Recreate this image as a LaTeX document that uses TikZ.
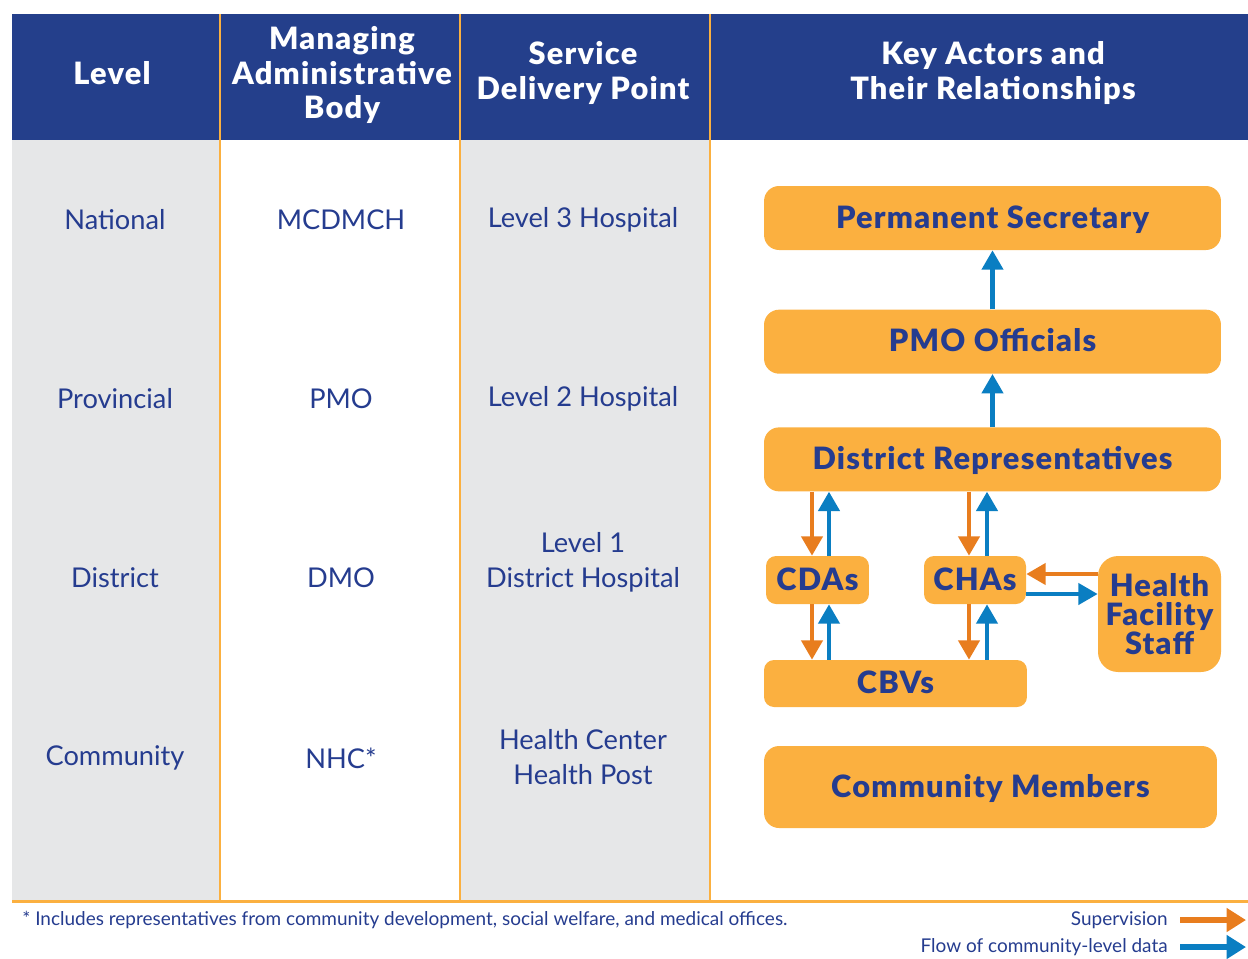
\documentclass[tikz,border=0pt]{standalone}
\usepackage{fontspec}
\setmainfont{Lato}
\newfontfamily\heavyfont{Lato Black}[LetterSpace=4]
\usepackage{tikz}
\usetikzlibrary{arrows.meta, positioning}

\definecolor{headblue}{HTML}{243F8B}
\definecolor{textblue}{HTML}{253C8F}
\definecolor{boxorange}{HTML}{FBB040}
\definecolor{supcolor}{HTML}{E87D1E}
\definecolor{datacolor}{HTML}{0A7EC2}
\definecolor{colgray}{HTML}{E6E7E8}

\tikzstyle{heading} = [text=white, font=\heavyfont\fontsize{17.5}{19.5}\selectfont, align=center]
\tikzstyle{cell} = [text=textblue, font=\fontsize{15.5}{20}\selectfont, align=center]
\tikzstyle{actor} = [rectangle, rounded corners=0.3cm, fill=boxorange, text=textblue, font=\heavyfont\fontsize{17.5}{16.5}\selectfont, align=center, inner sep=0pt]
\tikzstyle{oneline} = [text height=11.5pt, text depth=0pt]
\tikzstyle{supervarrow} = [draw=supcolor, line width=2.3pt, -{Triangle[width=12pt,length=11pt]}]
\tikzstyle{dataarrow} = [draw=datacolor, line width=2.3pt, -{Triangle[width=12pt,length=11pt]}]
\tikzstyle{legendarrow} = [line width=3.4pt, -{Triangle[width=13pt,length=11pt]}]
\tikzstyle{small} = [text=textblue, font=\fontsize{10.8}{12}\selectfont, inner sep=0pt]

\begin{document}
\begin{tikzpicture}[x=0.02cm, y=-0.02cm]
        \useasboundingbox (0,0) rectangle (1248,958);

        % Table background
        \fill [headblue] (12,14) rectangle (1248,140);
        \fill [colgray] (12,140) rectangle (220,900);
        \fill [colgray] (460,140) rectangle (710,900);
        \foreach \x in {220,460,710}
            \draw [boxorange, line width=1.1pt] (\x,14) -- (\x,900);
        \draw [boxorange, line width=1.7pt] (12,901) -- (1248,901);

        % Column headings
        \node (hlevel) [heading] at (112,73) {Level};
        \node (hbody) [heading] at (342,75) {Managing\\Administrative\\Body};
        \node (hpoint) [heading] at (583,73) {Service\\Delivery Point};
        \node (hactors) [heading] at (993,73) {Key Actors and\\Their Relationships};

        % Table rows
        \node (national) [cell] at (115,220) {National};
        \node (mcdmch) [cell] at (341,220) {MCDMCH};
        \node (lvlthree) [cell] at (583,220) {Level 3 Hospital};
        \node (provincial) [cell] at (115,399) {Provincial};
        \node (pmobody) [cell] at (341,399) {PMO};
        \node (lvltwo) [cell] at (583,399) {Level 2 Hospital};
        \node (district) [cell] at (115,578) {District};
        \node (dmo) [cell] at (341,578) {DMO};
        \node (lvlone) [cell] at (583,562) {Level 1\\District Hospital};
        \node (community) [cell] at (115,758) {Community};
        \node (nhc) [cell] at (341,758) {NHC*};
        \node (center) [cell] at (583,757) {Health Center\\Health Post};

        % Key actors
        \node (ps) [actor, oneline, minimum width=9.14cm, minimum height=1.28cm] at (992.5,218) {Permanent Secretary};
        \node (pmo) [actor, oneline, minimum width=9.14cm, minimum height=1.28cm, below=1.18cm of ps] {PMO Officials};
        \node (dr) [actor, oneline, minimum width=9.14cm, minimum height=1.28cm, below=1.06cm of pmo] {District Representatives};
        \node (cdas) [actor, oneline, rounded corners=0.2cm, minimum width=2.06cm, minimum height=0.96cm] at (817.5,580) {CDAs};
        \node (chas) [actor, oneline, rounded corners=0.2cm, minimum width=2.04cm, minimum height=0.96cm] at (975,580) {CHAs};
        \node (hfs) [actor, rounded corners=0.4cm, minimum width=2.46cm, minimum height=2.32cm] at (1159.5,614) {Health\\Facility\\Staff};
        \node (cbvs) [actor, oneline, rounded corners=0.2cm, minimum width=5.26cm, minimum height=0.94cm] at (895.5,683.5) {CBVs};
        \node (members) [actor, oneline, minimum width=9.06cm, minimum height=1.64cm] at (990.5,787) {Community Members};

        % Data flowing up
        \draw [dataarrow] (pmo) -- (ps);
        \draw [dataarrow] (dr) -- (pmo);

        % District representatives <-> CDAs / CHAs
        \draw [supervarrow] ([xshift=-0.11cm]cdas.north |- dr.south) -- ([xshift=-0.11cm]cdas.north);
        \draw [dataarrow] ([xshift=0.23cm]cdas.north) -- ([xshift=0.23cm]cdas.north |- dr.south);
        \draw [supervarrow] ([xshift=-0.12cm]chas.north |- dr.south) -- ([xshift=-0.12cm]chas.north);
        \draw [dataarrow] ([xshift=0.24cm]chas.north) -- ([xshift=0.24cm]chas.north |- dr.south);

        % CDAs / CHAs <-> CBVs
        \draw [supervarrow] ([xshift=-0.11cm]cdas.south) -- ([xshift=-0.11cm]cdas.south |- cbvs.north);
        \draw [dataarrow] ([xshift=0.23cm]cdas.south |- cbvs.north) -- ([xshift=0.23cm]cdas.south);
        \draw [supervarrow] ([xshift=-0.12cm]chas.south) -- ([xshift=-0.12cm]chas.south |- cbvs.north);
        \draw [dataarrow] ([xshift=0.24cm]chas.south |- cbvs.north) -- ([xshift=0.24cm]chas.south);

        % CHAs <-> health facility staff
        \draw [supervarrow] ([yshift=0.12cm]chas.east -| hfs.west) -- ([yshift=0.12cm]chas.east);
        \draw [dataarrow] ([yshift=-0.28cm]chas.east) -- ([yshift=-0.28cm]chas.east -| hfs.west);

        % Footnote and legend
        \node (note) [small, anchor=west] at (22,920) {* Includes representatives from community development, social welfare, and medical offices.};
        \node (suplabel) [small, anchor=east] at (1168,920) {Supervision};
        \node (datalabel) [small, anchor=east] at (1168,947) {Flow of community-level data};
        \coordinate (supend) at (1246,920);
        \coordinate (dataend) at (1246,947);
        \draw [legendarrow, supcolor] ([xshift=0.24cm]suplabel.east) -- (supend);
        \draw [legendarrow, datacolor] ([xshift=0.24cm]datalabel.east) -- (dataend);
    \end{tikzpicture}
\end{document}
